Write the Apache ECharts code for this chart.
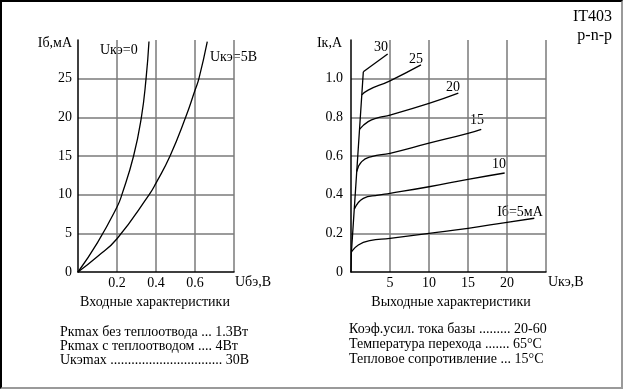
<!DOCTYPE html>
<html>
<head>
<meta charset="utf-8">
<script src="https://cdn.jsdelivr.net/npm/echarts@6/dist/echarts.min.js"></script>
<style>
html,body{margin:0;padding:0;background:#fff;}
#chart{position:absolute;left:0;top:0;width:623px;height:389px;}
#frame{position:absolute;left:0;top:0;width:623px;height:389px;box-sizing:border-box;
border-left:2px solid #000;border-top:2px solid #000;border-right:2px solid #9a9a9a;border-bottom:2px solid #9a9a9a;pointer-events:none;}
</style>
</head>
<body>
<div id="chart"></div>
<div id="frame"></div>
<script>
// ---- Input characteristics (Iб, мА vs Uбэ, В)
const inputUce0 = [[0,0],[0.1,3.8],[0.2,8.4],[0.225,10],[0.285,15],[0.325,20],[0.349,25],[0.364,29.8]];
const inputUce5 = [[0,0],[0.1,2.0],[0.2,4.3],[0.365,10],[0.4,11.5],[0.472,15],[0.552,20],[0.6,23.5],[0.62,25],[0.663,29.8]];
const inputXTicks = [0.2, 0.4, 0.6];
const inputYTicks = [0, 5, 10, 15, 20, 25];

// ---- Output characteristics (Iк, А vs Uкэ, В)
const saturation = [[0,0],[0.05,0.1],[1.58,1.036]];
const ib5  = [[0.07,0.105],[0.94,0.14],[2.4,0.162],[5,0.174],[10,0.2],[15,0.226],[20,0.257],[23.5,0.278]];
const ib10 = [[0.42,0.324],[1.58,0.381],[3.5,0.398],[5,0.407],[10,0.441],[15,0.479],[19.7,0.512]];
const ib15 = [[0.73,0.519],[1.37,0.571],[2.65,0.597],[5,0.614],[10,0.666],[15,0.717],[16.7,0.738]];
const ib20 = [[1.09,0.738],[2.2,0.778],[3.5,0.798],[5,0.812],[10,0.872],[13.76,0.925]];
const ib25 = [[1.38,0.916],[2.2,0.941],[5,0.989],[8.97,1.071]];
const ib30 = [[1.58,1.036],[4.7,1.128]];
const outputXTicks = [5, 10, 15, 20];
const outputYTicks = [0, 0.2, 0.4, 0.6, 0.8, 1.0];

const curveLabels = ['30', '25', '20', '15', '10', 'Iб=5мА'];
const infoLeft = ['Pкmax без теплоотвода ... 1.3Вт', 'Pкmax с теплоотводом .... 4Вт', 'Uкэmax ................................ 30В'];
const infoRight = ['Коэф.усил. тока базы ......... 20-60', 'Температура перехода ....... 65°С', 'Тепловое сопротивление ... 15°С'];

const FONT = '"Liberation Serif","Times New Roman",serif';
const GRID_COLOR = '#7a7a7a';
const chart = echarts.init(document.getElementById('chart'), null, {renderer:'canvas'});

function axisCommon(extra, showMax) {
  return Object.assign({
    type: 'value',
    axisLine: {show: true, onZero: false, lineStyle: {color: '#000', width: 1.5}},
    axisTick: {show: false},
    splitLine: {show: true, showMinLine: false, showMaxLine: showMax,
      lineStyle: {color: GRID_COLOR, width: 1.5}}
  }, extra);
}

function line(data, xi, smooth) {
  return {type: 'line', data: data, xAxisIndex: xi, yAxisIndex: xi, symbol: 'none',
    smooth: smooth === undefined ? 0.5 : smooth, z: 3,
    lineStyle: {color: '#000', width: 1.3}, silent: true, animation: false};
}

function txt(x, y, s, align, size) {
  return {type: 'text', x: x, y: y, style: {text: s, fill: '#000', font: (size || 14) + 'px ' + FONT,
    textAlign: align || 'left', textVerticalAlign: 'middle'}};
}

const graphics = [
  txt(72, 43, 'Iб,мА', 'right'),
  txt(100, 50, 'Uкэ=0'),
  txt(210, 57, 'Uкэ=5В'),
  txt(235, 282, 'Uбэ,В'),
  txt(342, 43, 'Iк,А', 'right'),
  txt(548, 282, 'Uкэ,В'),
  txt(612, 17, 'IT403', 'right', 16),
  txt(612, 36, 'p-n-p', 'right', 16),
  txt(381, 47, curveLabels[0], 'center'),
  txt(416, 59, curveLabels[1], 'center'),
  txt(453, 87, curveLabels[2], 'center'),
  txt(477, 120, curveLabels[3], 'center'),
  txt(499, 164, curveLabels[4], 'center'),
  txt(520, 212, curveLabels[5], 'center'),
  txt(155, 302, 'Входные характеристики', 'center'),
  txt(451, 302, 'Выходные характеристики', 'center')
];
infoLeft.forEach((s, i) => graphics.push(txt(60, 332 + i * 14, s)));
infoRight.forEach((s, i) => graphics.push(txt(349, 329 + i * 15, s)));

const lblBase = {color: '#000', fontFamily: FONT, fontSize: 14};

chart.setOption({
  animation: false,
  backgroundColor: '#fff',
  grid: [
    {left: 78, top: 40, width: 156, height: 232},
    {left: 351, top: 40, width: 195, height: 232}
  ],
  xAxis: [
    axisCommon({gridIndex: 0, min: 0, max: 0.8, interval: 0.2,
      axisLabel: Object.assign({margin: 4,
        formatter: v => inputXTicks.some(t => Math.abs(t - v) < 1e-6) ? v.toFixed(1) : ''}, lblBase)}, true),
    axisCommon({gridIndex: 1, min: 0, max: 25, interval: 5,
      axisLabel: Object.assign({margin: 4,
        formatter: v => outputXTicks.indexOf(v) >= 0 ? String(v) : ''}, lblBase)}, true)
  ],
  yAxis: [
    axisCommon({gridIndex: 0, min: 0, max: 30, interval: 5,
      axisLabel: Object.assign({margin: 6,
        formatter: v => inputYTicks.indexOf(v) >= 0 ? String(v) : ''}, lblBase)}, false),
    axisCommon({gridIndex: 1, min: 0, max: 1.2, interval: 0.2,
      axisLabel: Object.assign({margin: 8,
        formatter: v => outputYTicks.some(t => Math.abs(t - v) < 1e-6) ? (v === 0 ? '0' : v.toFixed(1)) : ''}, lblBase)}, false)
  ],
  series: [
    line(inputUce0, 0), line(inputUce5, 0),
    line(saturation, 1, false),
    line(ib5, 1), line(ib10, 1), line(ib15, 1), line(ib20, 1), line(ib25, 1),
    line(ib30, 1, false)
  ],
  graphic: graphics
});
</script>
</body>
</html>
